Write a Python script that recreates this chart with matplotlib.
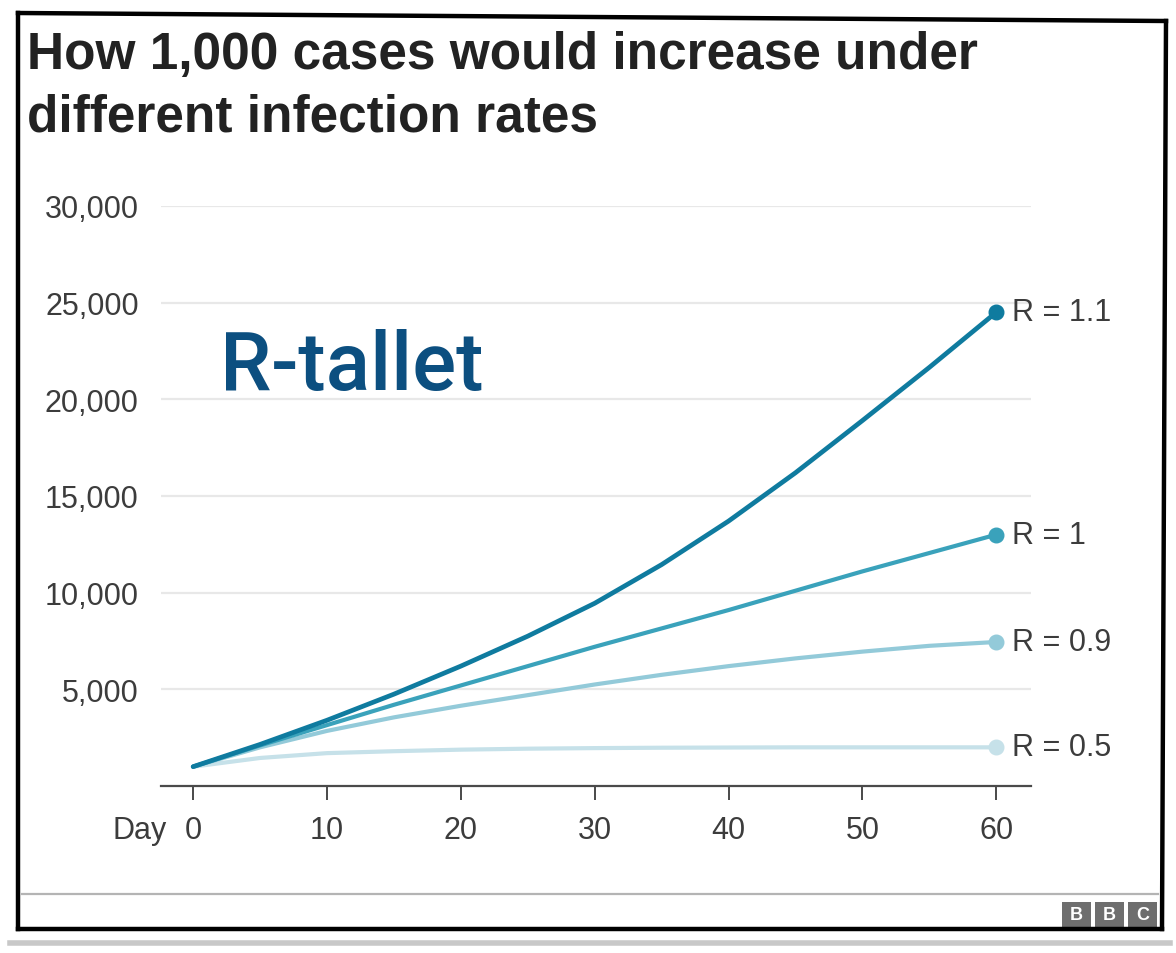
import matplotlib
matplotlib.use("Agg")
import matplotlib.pyplot as plt
from matplotlib.lines import Line2D
from matplotlib.patches import Rectangle

W, H = 1176, 954

# cumulative cases, every 5 days
days = [0, 5, 10, 15, 20, 25, 30, 35, 40, 45, 50, 55, 60]
r_11 = [1000, 2150, 3400, 4750, 6200, 7750, 9450, 11450, 13700, 16200, 18900, 21650, 24500]
r_10 = [1000, 2100, 3150, 4200, 5200, 6200, 7200, 8150, 9100, 10100, 11100, 12050, 13000]
r_09 = [1000, 2000, 2850, 3550, 4150, 4700, 5250, 5750, 6200, 6600, 6950, 7250, 7450]
r_05 = [1000, 1450, 1700, 1800, 1880, 1930, 1960, 1980, 1990, 2000, 2000, 2000, 2000]

series_labels = ["R = 0.5", "R = 0.9", "R = 1", "R = 1.1"]
series_values = [r_05, r_09, r_10, r_11]
series_colors = ["#c6e1e9", "#93cad9", "#3aa2bb", "#0f7b9f"]

y_ticks = [5000, 10000, 15000, 20000, 25000, 30000]
x_ticks = [0, 10, 20, 30, 40, 50, 60]

title_lines = ["How 1,000 cases would increase under", "different infection rates"]


def fx(x):
    return x / W


def fy(y):
    return 1 - y / H


def draw_frame(fig):
    border = dict(color="black", lw=3.2, solid_capstyle="projecting")
    fig.add_artist(Line2D([fx(18), fx(1166)], [fy(14), fy(22)], **border))
    fig.add_artist(Line2D([fx(1166), fx(1162)], [fy(22), fy(930)], **border))
    fig.add_artist(Line2D([fx(18), fx(1162)], [fy(930), fy(930)], **border))
    fig.add_artist(Line2D([fx(18), fx(18)], [fy(14), fy(930)], **border))
    # soft shadow under the frame
    fig.add_artist(Line2D([fx(10), fx(1170)], [fy(944), fy(944)], color="#c8c8c8", lw=4))
    # footer divider
    fig.add_artist(Line2D([fx(22), fx(1158)], [fy(895), fy(895)], color="#b4b4b4", lw=1.6))

    # BBC blocks
    for i, letter in enumerate("BBC"):
        x0 = 1062 + i * 33
        fig.add_artist(Rectangle((fx(x0), fy(928)), fx(29), 25 / H, color="#6e6e6e", lw=0))
        fig.text(fx(x0 + 14.5), fy(915.5), letter, color="white", fontsize=13,
                 fontweight="bold", ha="center", va="center", family="Liberation Sans")


def main():
    plt.rcParams["font.family"] = ["Liberation Sans", "DejaVu Sans"]
    fig = plt.figure(figsize=(W / 100, H / 100), dpi=100)
    fig.patch.set_facecolor("white")

    ax = fig.add_axes([fx(161), fy(787), fx(1031) - fx(161), fy(207) - fy(787)])
    ax.set_xlim(-2.4, 62.6)
    ax.set_ylim(0, 30000)

    for y in y_ticks:
        ax.axhline(y, color="#e8e8e8", lw=1.6, zorder=0)

    for label, vals, col in zip(series_labels, series_values, series_colors):
        lw = 3.4 if label == "R = 1.1" else 3.0
        ax.plot(days, vals, color=col, lw=lw, solid_capstyle="round",
                solid_joinstyle="round", zorder=3)
        ax.plot(days[-1], vals[-1], "o", color=col, ms=10.5, zorder=4, clip_on=False)
        ax.annotate(label, xy=(days[-1], vals[-1]), xytext=(11.5, 0), textcoords="offset points",
                    ha="left", va="center", fontsize=22, color="#3c3c3c", annotation_clip=False)

    for side in ["top", "right", "left"]:
        ax.spines[side].set_visible(False)
    ax.spines["bottom"].set_color("#4a4a4a")
    ax.spines["bottom"].set_linewidth(1.6)

    ax.set_yticks(y_ticks)
    ax.set_yticklabels([f"{v:,}" for v in y_ticks])
    ax.set_xticks(x_ticks)
    ax.set_xticklabels([str(v) for v in x_ticks])
    ax.tick_params(axis="y", length=0, pad=16, labelsize=22, labelcolor="#3c3c3c")
    ax.tick_params(axis="x", length=10, width=1.4, color="#4a4a4a", pad=11,
                   labelsize=22, labelcolor="#3c3c3c")
    ax.annotate("Day", xy=(0, 0), xycoords=("data", "axes fraction"), xytext=(-19, -21),
                textcoords="offset points", ha="right", va="top", fontsize=22, color="#3c3c3c",
                annotation_clip=False)

    fig.text(fx(27), fy(69), title_lines[0], fontsize=37, fontweight="bold",
             color="#222222", va="baseline", ha="left")
    fig.text(fx(27), fy(131), title_lines[1], fontsize=37, fontweight="bold",
             color="#222222", va="baseline", ha="left")

    fig.text(fx(220), fy(390), "R-tallet", fontsize=59, color="#0c4f80", fontweight="medium",
             family=["Roboto", "DejaVu Sans"], va="baseline", ha="left")

    draw_frame(fig)

    fig.savefig("out.png", dpi=100, facecolor="white")


if __name__ == "__main__":
    main()
